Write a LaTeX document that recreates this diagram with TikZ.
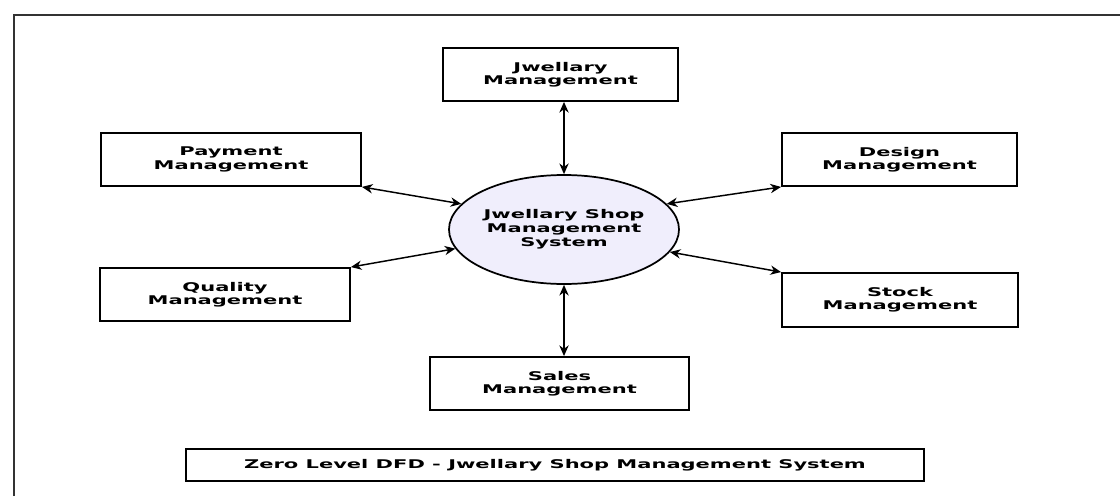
\documentclass[tikz,border=0pt]{standalone}
\usepackage{fontspec}
\newfontfamily\dfont[FakeStretch=1.75]{DejaVu Sans Bold}
\usetikzlibrary{arrows.meta,shapes.geometric}
\definecolor{lav}{RGB}{240,238,252}
\begin{document}
\begin{tikzpicture}[x=0.75pt,y=-0.75pt,
  box/.style={draw, line width=1.4pt, rectangle, inner sep=0pt, align=center,
    font=\dfont\fontsize{9}{10}\selectfont},
  proc/.style={draw, line width=1.3pt, ellipse, fill=lav, inner sep=0pt, align=center,
    font=\dfont\fontsize{9}{10.5}\selectfont},
  arr/.style={draw, line width=1.1pt, {Stealth[length=8pt,width=7pt]}-{Stealth[length=8pt,width=7pt]}}]
\useasboundingbox (0,0) rectangle (1120,496);
\fill[white] (0,0) rectangle (1120,496);
\draw[line width=1.3pt, black!80] (14,496) -- (14,15) -- (1120,15);

\node[box, minimum width=176.25pt, minimum height=39.75pt] (jw) at (560.5,74.5) {Jwellary\\Management};
\node[box, minimum width=195pt, minimum height=39.75pt] (pay) at (231,159.5) {Payment\\Management};
\node[box, minimum width=176.25pt, minimum height=39.75pt] (des) at (899.5,159.5) {Design\\Management};
\node[box, minimum width=187.5pt, minimum height=39.75pt] (qual) at (225,294.5) {Quality\\Management};
\node[box, minimum width=177pt, minimum height=40.5pt] (stock) at (900,300) {Stock\\Management};
\node[box, minimum width=194.25pt, minimum height=39.75pt] (sales) at (559.5,383.5) {Sales\\Management};
\node[box, minimum width=553.5pt, minimum height=24pt, font=\dfont\fontsize{9}{10}\selectfont] (title) at (555,465) {Zero Level DFD - Jwellary Shop Management System};
\node[proc, minimum width=172.5pt, minimum height=81.75pt] (el) at (564,229.5) {Jwellary Shop\\Management\\System};

\draw[arr] (el.north) -- (el.north |- jw.south);
\draw[arr] (el.south) -- (el.south |- sales.north);
\draw[arr] (pay.south east) -- (el.166);
\draw[arr] (des.south west) -- (el.14);
\draw[arr] (qual.north east) -- (el.190);
\draw[arr] (stock.north west) -- (el.-12);
\end{tikzpicture}
\end{document}
